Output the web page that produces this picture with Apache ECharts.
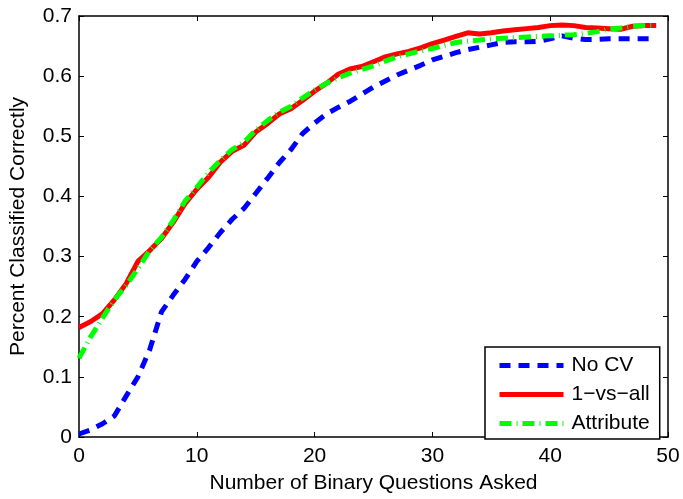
<!DOCTYPE html>
<html>
<head>
<meta charset="utf-8">
<script src="https://cdn.jsdelivr.net/npm/echarts@6/dist/echarts.min.js"></script>
<style>html,body{margin:0;padding:0;background:#fff}#c{width:683px;height:499px}</style>
</head>
<body>
<div id="c"></div>
<script>
var questions = [0,1,2,3,4,5,6,7,8,9,10,11,12,13,14,15,16,17,18,19,20,21,22,23,24,25,26,27,28,29,30,31,32,33,34,35,36,37,38,39,40,41,42,43,44,45,46,47,48,49];
var noCV = [0.005,0.012,0.022,0.035,0.068,0.100,0.145,0.208,0.236,0.262,0.292,0.315,0.340,0.362,0.380,0.405,0.430,0.456,0.478,0.505,0.522,0.537,0.548,0.558,0.570,0.582,0.592,0.602,0.610,0.618,0.627,0.633,0.639,0.644,0.648,0.652,0.656,0.657,0.657,0.658,0.662,0.667,0.663,0.661,0.661,0.662,0.662,0.662,0.662,0.662];
var oneVsAll = [0.182,0.192,0.205,0.228,0.255,0.292,0.310,0.330,0.357,0.388,0.412,0.432,0.457,0.475,0.485,0.507,0.521,0.537,0.546,0.560,0.575,0.588,0.603,0.612,0.616,0.624,0.632,0.637,0.641,0.647,0.654,0.660,0.666,0.672,0.670,0.672,0.675,0.677,0.679,0.681,0.684,0.685,0.684,0.681,0.680,0.679,0.678,0.683,0.684,0.684];
var attribute = [0.131,0.167,0.198,0.228,0.252,0.280,0.310,0.332,0.360,0.392,0.415,0.440,0.460,0.478,0.490,0.510,0.526,0.540,0.550,0.564,0.577,0.588,0.597,0.605,0.611,0.617,0.625,0.632,0.637,0.642,0.646,0.651,0.656,0.658,0.660,0.662,0.663,0.664,0.665,0.666,0.667,0.668,0.669,0.671,0.674,0.678,0.680,0.683,0.684,0.684];
var seriesNames = ['No CV','1\u2212vs\u2212all','Attribute'];
var xTitle = 'Number of Binary Questions Asked';
var yTitle = 'Percent Classified Correctly';

function pairs(ys){ return questions.map(function(x,i){ return [x, ys[i]]; }); }

var FONT = 'Liberation Sans, Arial, sans-serif';
var FS = 21;
var axisLine = {show:true, onZero:false, lineStyle:{color:'#000', width:1.5}};
var tick = {show:true, inside:true, length:5, lineStyle:{color:'#000', width:1}};
var chart = echarts.init(document.getElementById('c'), null, {renderer:'canvas'});
chart.setOption({
  animation:false,
  backgroundColor:'#fff',
  grid:{left:77, right:15, top:16, bottom:59, containLabel:false},
  xAxis:[{
    type:'value', min:0, max:50, interval:10,
    name:xTitle, nameLocation:'middle', nameGap:36,
    nameTextStyle:{color:'#000', fontFamily:FONT, fontSize:FS},
    axisLine:axisLine, axisTick:tick,
    axisLabel:{color:'#000', fontFamily:FONT, fontSize:FS, margin:9},
    splitLine:{show:false}
  },{
    type:'value', min:0, max:50, interval:10, position:'top',
    axisLine:axisLine, axisTick:tick,
    axisLabel:{show:false}, splitLine:{show:false}
  }],
  yAxis:[{
    type:'value', min:0, max:0.7, interval:0.1,
    name:yTitle, nameLocation:'middle', nameGap:50,
    nameTextStyle:{color:'#000', fontFamily:FONT, fontSize:FS},
    axisLine:axisLine, axisTick:tick,
    axisLabel:{color:'#000', fontFamily:FONT, fontSize:FS, margin:7,
      formatter:function(v){ return v===0 ? '0' : v.toFixed(1); }},
    splitLine:{show:false}
  },{
    type:'value', min:0, max:0.7, interval:0.1, position:'right',
    axisLine:axisLine, axisTick:tick,
    axisLabel:{show:false}, splitLine:{show:false}
  }],
  legend:{
    orient:'vertical', left:485, top:347,
    padding:[8,10,5,12], itemGap:8, itemWidth:64, itemHeight:14,
    borderColor:'#000', borderWidth:1.5, backgroundColor:'#fff',
    itemStyle:{opacity:0},
    lineStyle:{width:5},
    textStyle:{color:'#000', fontFamily:FONT, fontSize:FS, padding:[0,0,0,3]},
    data:seriesNames
  },
  series:[{
    name:seriesNames[0], type:'line', data:pairs(noCV), showSymbol:false, symbol:'none',
    lineStyle:{color:'#0000ff', width:5, type:[11,8]}, itemStyle:{color:'#0000ff'}, z:3
  },{
    name:seriesNames[1], type:'line', data:pairs(oneVsAll), showSymbol:false, symbol:'none',
    lineStyle:{color:'#ff0000', width:5, type:'solid'}, itemStyle:{color:'#ff0000'}, z:2
  },{
    name:seriesNames[2], type:'line', data:pairs(attribute), showSymbol:false, symbol:'none',
    lineStyle:{color:'#00ff00', width:5, type:[12,5,1,5]}, itemStyle:{color:'#00ff00'}, z:4
  }]
});
</script>
</body>
</html>
